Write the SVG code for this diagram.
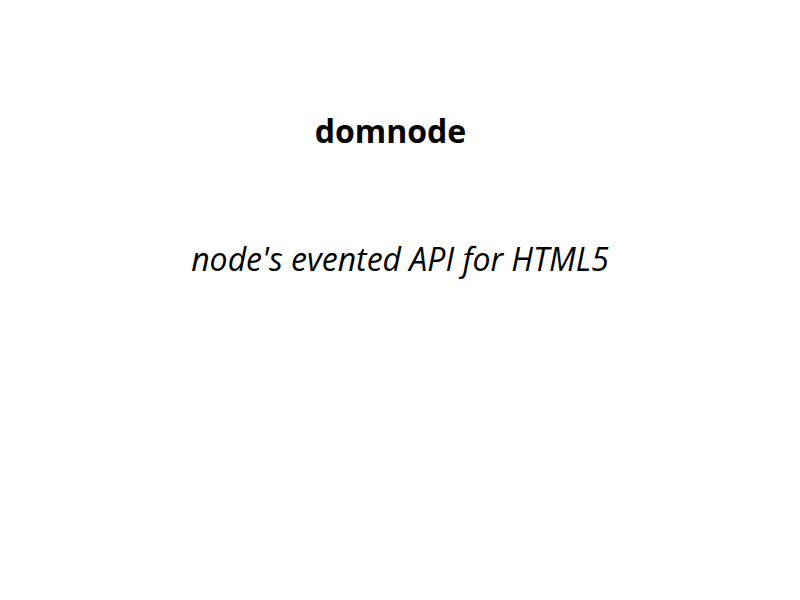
<svg xmlns="http://www.w3.org/2000/svg" width="800" height="600" viewBox="0 0 800 600">
<style>
.t{font-family:"Open Sans","Noto Sans",sans-serif;fill:#000;text-anchor:middle}
.title{font-size:32px;font-weight:bold}
.sub{font-size:32px;font-style:italic}
</style>
<rect width="800" height="600" fill="#fff"/>
<g id="title"><text class="t title" x="390.5" y="143">domnode</text></g>
<g id="subtitle"><text class="t sub" x="400" y="271">node's evented API for HTML5</text></g>
</svg>
